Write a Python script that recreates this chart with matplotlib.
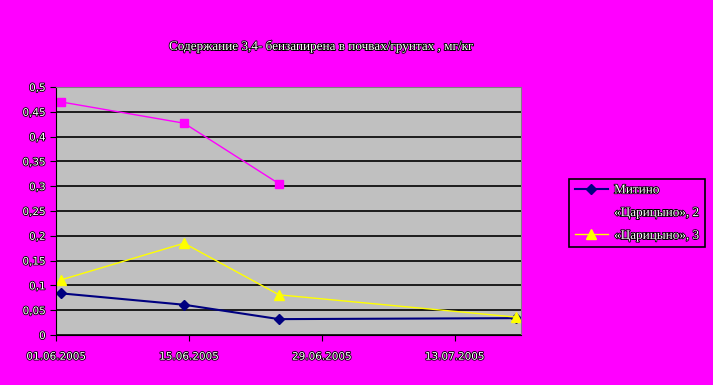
import matplotlib.pyplot as plt
import matplotlib.patheffects as pe
from datetime import datetime

# dates of sampling (Excel places points at mid-day)
dates_mitino = ["01.06.2005", "14.06.2005", "24.06.2005", "19.07.2005"]
mitino = [0.084, 0.061, 0.032, 0.034]
dates_tsar2 = ["01.06.2005", "14.06.2005", "24.06.2005"]
tsar2 = [0.470, 0.427, 0.305]
dates_tsar3 = ["01.06.2005", "14.06.2005", "24.06.2005", "19.07.2005"]
tsar3 = [0.111, 0.185, 0.081, 0.036]

xticks = ["01.06.2005", "15.06.2005", "29.06.2005", "13.07.2005"]
yticks = [0, 0.05, 0.1, 0.15, 0.2, 0.25, 0.3, 0.35, 0.4, 0.45, 0.5]
title = "Содержание 3,4- бензапирена в почвах/грунтах , мг/кг"


def to_dt(s, hour=12):
    return datetime.strptime(s, "%d.%m.%Y").replace(hour=hour)


bg = "#ff00ff"
fx = [pe.withStroke(linewidth=1.2, foreground="black")]
plt.rcParams['font.family'] = ['Liberation Serif', 'DejaVu Sans']

fig = plt.figure(figsize=(7.13, 3.85), dpi=100, facecolor=bg)
ax = fig.add_axes([56 / 713, 50 / 385, 465 / 713, 248 / 385])
ax.set_facecolor("#c0c0c0")

ax.plot([to_dt(d) for d in dates_mitino], mitino, color="#000080", lw=1.5,
        marker="D", ms=5, label="Митино")
ax.plot([to_dt(d) for d in dates_tsar2], tsar2, color="#ff00ff", lw=1,
        marker="s", ms=6, label="«Царицыно», 2")
ax.plot([to_dt(d) for d in dates_tsar3], tsar3, color="#ffff00", lw=1,
        marker="^", ms=7, label="«Царицыно», 3")

ax.set_xlim(to_dt("01.06.2005", 0), to_dt("20.07.2005", 0))
ax.set_ylim(0, 0.5)
ax.set_xticks([to_dt(d, 0) for d in xticks])
ax.set_xticklabels(xticks)
ax.set_yticks(yticks)
ax.set_yticklabels([("%g" % v).replace(".", ",") for v in yticks])
ax.grid(axis="y", color="black", lw=1.2)
ax.set_axisbelow(True)
ax.tick_params(length=4, color="black", labelsize=7.5, labelcolor="white")
ax.tick_params(axis="x", pad=8)
for lab in ax.get_xticklabels() + ax.get_yticklabels():
    lab.set_fontfamily("DejaVu Sans")
    lab.set_path_effects(fx)
for s in ["left", "bottom"]:
    ax.spines[s].set_color("black")
for s in ["top", "right"]:
    ax.spines[s].set_color("#808080")

fig.text(322 / 713, 1 - 47 / 385, title, ha="center", va="center",
         fontsize=9.5, color="white", path_effects=fx)

leg = fig.legend(loc="center", bbox_to_anchor=(637 / 713, 1 - 213 / 385),
                 facecolor=bg, edgecolor="black", framealpha=1, fancybox=False,
                 fontsize=9.5, handlelength=2.5, handletextpad=0.5,
                 labelspacing=0.8)
for t in leg.get_texts():
    t.set_color("white")
    t.set_path_effects(fx)
leg.get_frame().set_linewidth(1.2)

fig.savefig("out.png", dpi=100, facecolor=bg)
